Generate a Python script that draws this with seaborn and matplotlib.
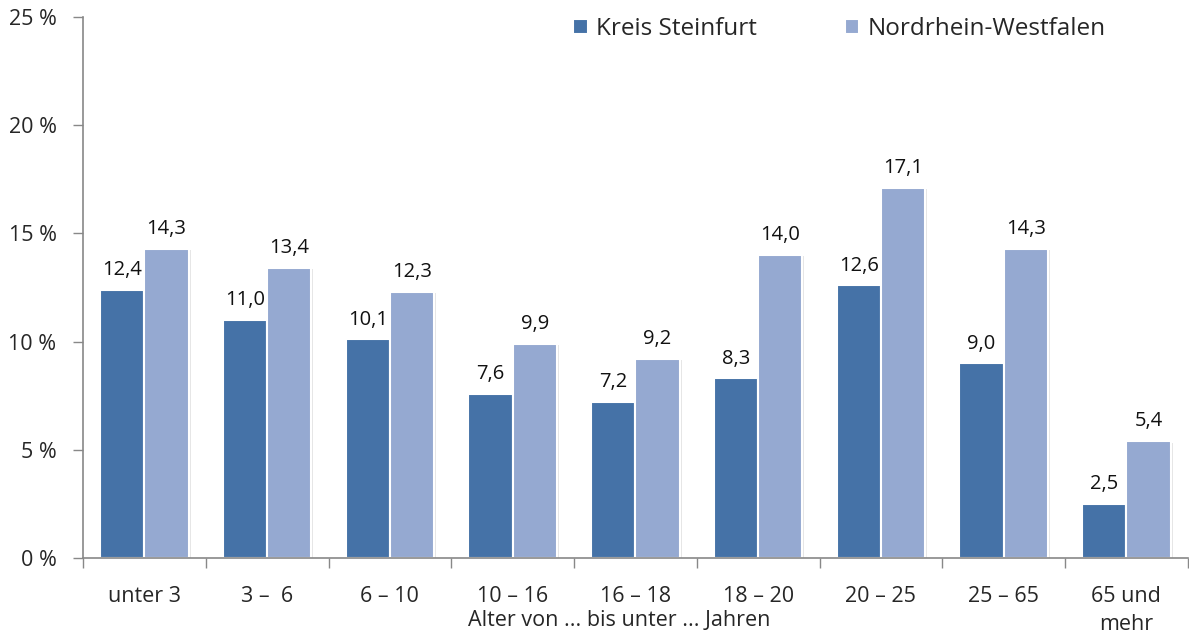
import matplotlib
matplotlib.use("Agg")
import matplotlib.pyplot as plt
import matplotlib.patheffects as pe
import seaborn as sns
import pandas as pd
from matplotlib.ticker import FixedLocator

categories = ["unter 3", "3 –  6", "6 – 10", "10 – 16", "16 – 18", "18 – 20", "20 – 25", "25 – 65", "65 und\nmehr"]
kreis = [12.4, 11.0, 10.1, 7.6, 7.2, 8.3, 12.6, 9.0, 2.5]
nrw = [14.3, 13.4, 12.3, 9.9, 9.2, 14.0, 17.1, 14.3, 5.4]
series_names = ["Kreis Steinfurt", "Nordrhein-Westfalen"]
colors = ["#4572A7", "#95A9D1"]
yticks = [0, 5, 10, 15, 20, 25]

df = pd.DataFrame({
    "Alter": categories * 2,
    "Wert": kreis + nrw,
    "Region": [series_names[0]] * len(categories) + [series_names[1]] * len(categories),
})

sns.set_style("white")
plt.rcParams["font.family"] = ["Open Sans", "DejaVu Sans"]

fig = plt.figure(figsize=(11.89, 6.35), dpi=100)
ax = fig.add_axes([83 / 1189, 1 - 558 / 635, 1 - 83 / 1189 - 0.001, (558 - 17) / 635])

sns.barplot(data=df, x="Alter", y="Wert", hue="Region", palette=colors, width=0.72,
            saturation=1, edgecolor="white", linewidth=1.5, ax=ax, legend=True)

for cont in ax.containers:
    for p in cont.patches:
        p.set_path_effects([pe.SimplePatchShadow(offset=(1.5, -1), shadow_rgbFace="#999999", alpha=0.25),
                            pe.Normal()])
    ax.bar_label(cont, labels=[f"{v:.1f}".replace(".", ",") for v in cont.datavalues],
                 padding=7, fontsize=14.5, color="#111111")

ax.set_ylim(0, 25)
ax.set_xlim(-0.5, len(categories) - 0.5)
ax.set_yticks(yticks)
ax.set_yticklabels([f"{v} %" for v in yticks], fontsize=15.5)
ax.set_xticks(range(len(categories)))
ax.set_xticklabels(categories, fontsize=15.5, linespacing=1.45)
ax.xaxis.set_minor_locator(FixedLocator([i - 0.5 for i in range(len(categories) + 1)]))
ax.tick_params(axis="x", which="major", length=0, pad=20)
ax.tick_params(axis="x", which="minor", length=7, width=1, color="#888888", direction="out", bottom=True)
ax.tick_params(axis="y", length=7, width=1, color="#888888", direction="out", left=True, pad=12)
ax.set_xlabel("Alter von ... bis unter ... Jahren", fontsize=15.5, va="center")
ax.xaxis.set_label_coords((620 - 83) / (1189 - 83), -(620 - 558) / (558 - 17))
ax.set_ylabel("")
for s in ["top", "right"]:
    ax.spines[s].set_visible(False)
for s in ["left", "bottom"]:
    ax.spines[s].set_color("#888888")
    ax.spines[s].set_linewidth(1.2)

leg = ax.legend(loc="center", bbox_to_anchor=(0.706, 0.954), bbox_transform=fig.transFigure,
                ncol=2, frameon=False, fontsize=17.5, handlelength=0.6, handleheight=0.6,
                handletextpad=0.35, columnspacing=3.6, title=None)

fig.savefig("out.png", dpi=100)
